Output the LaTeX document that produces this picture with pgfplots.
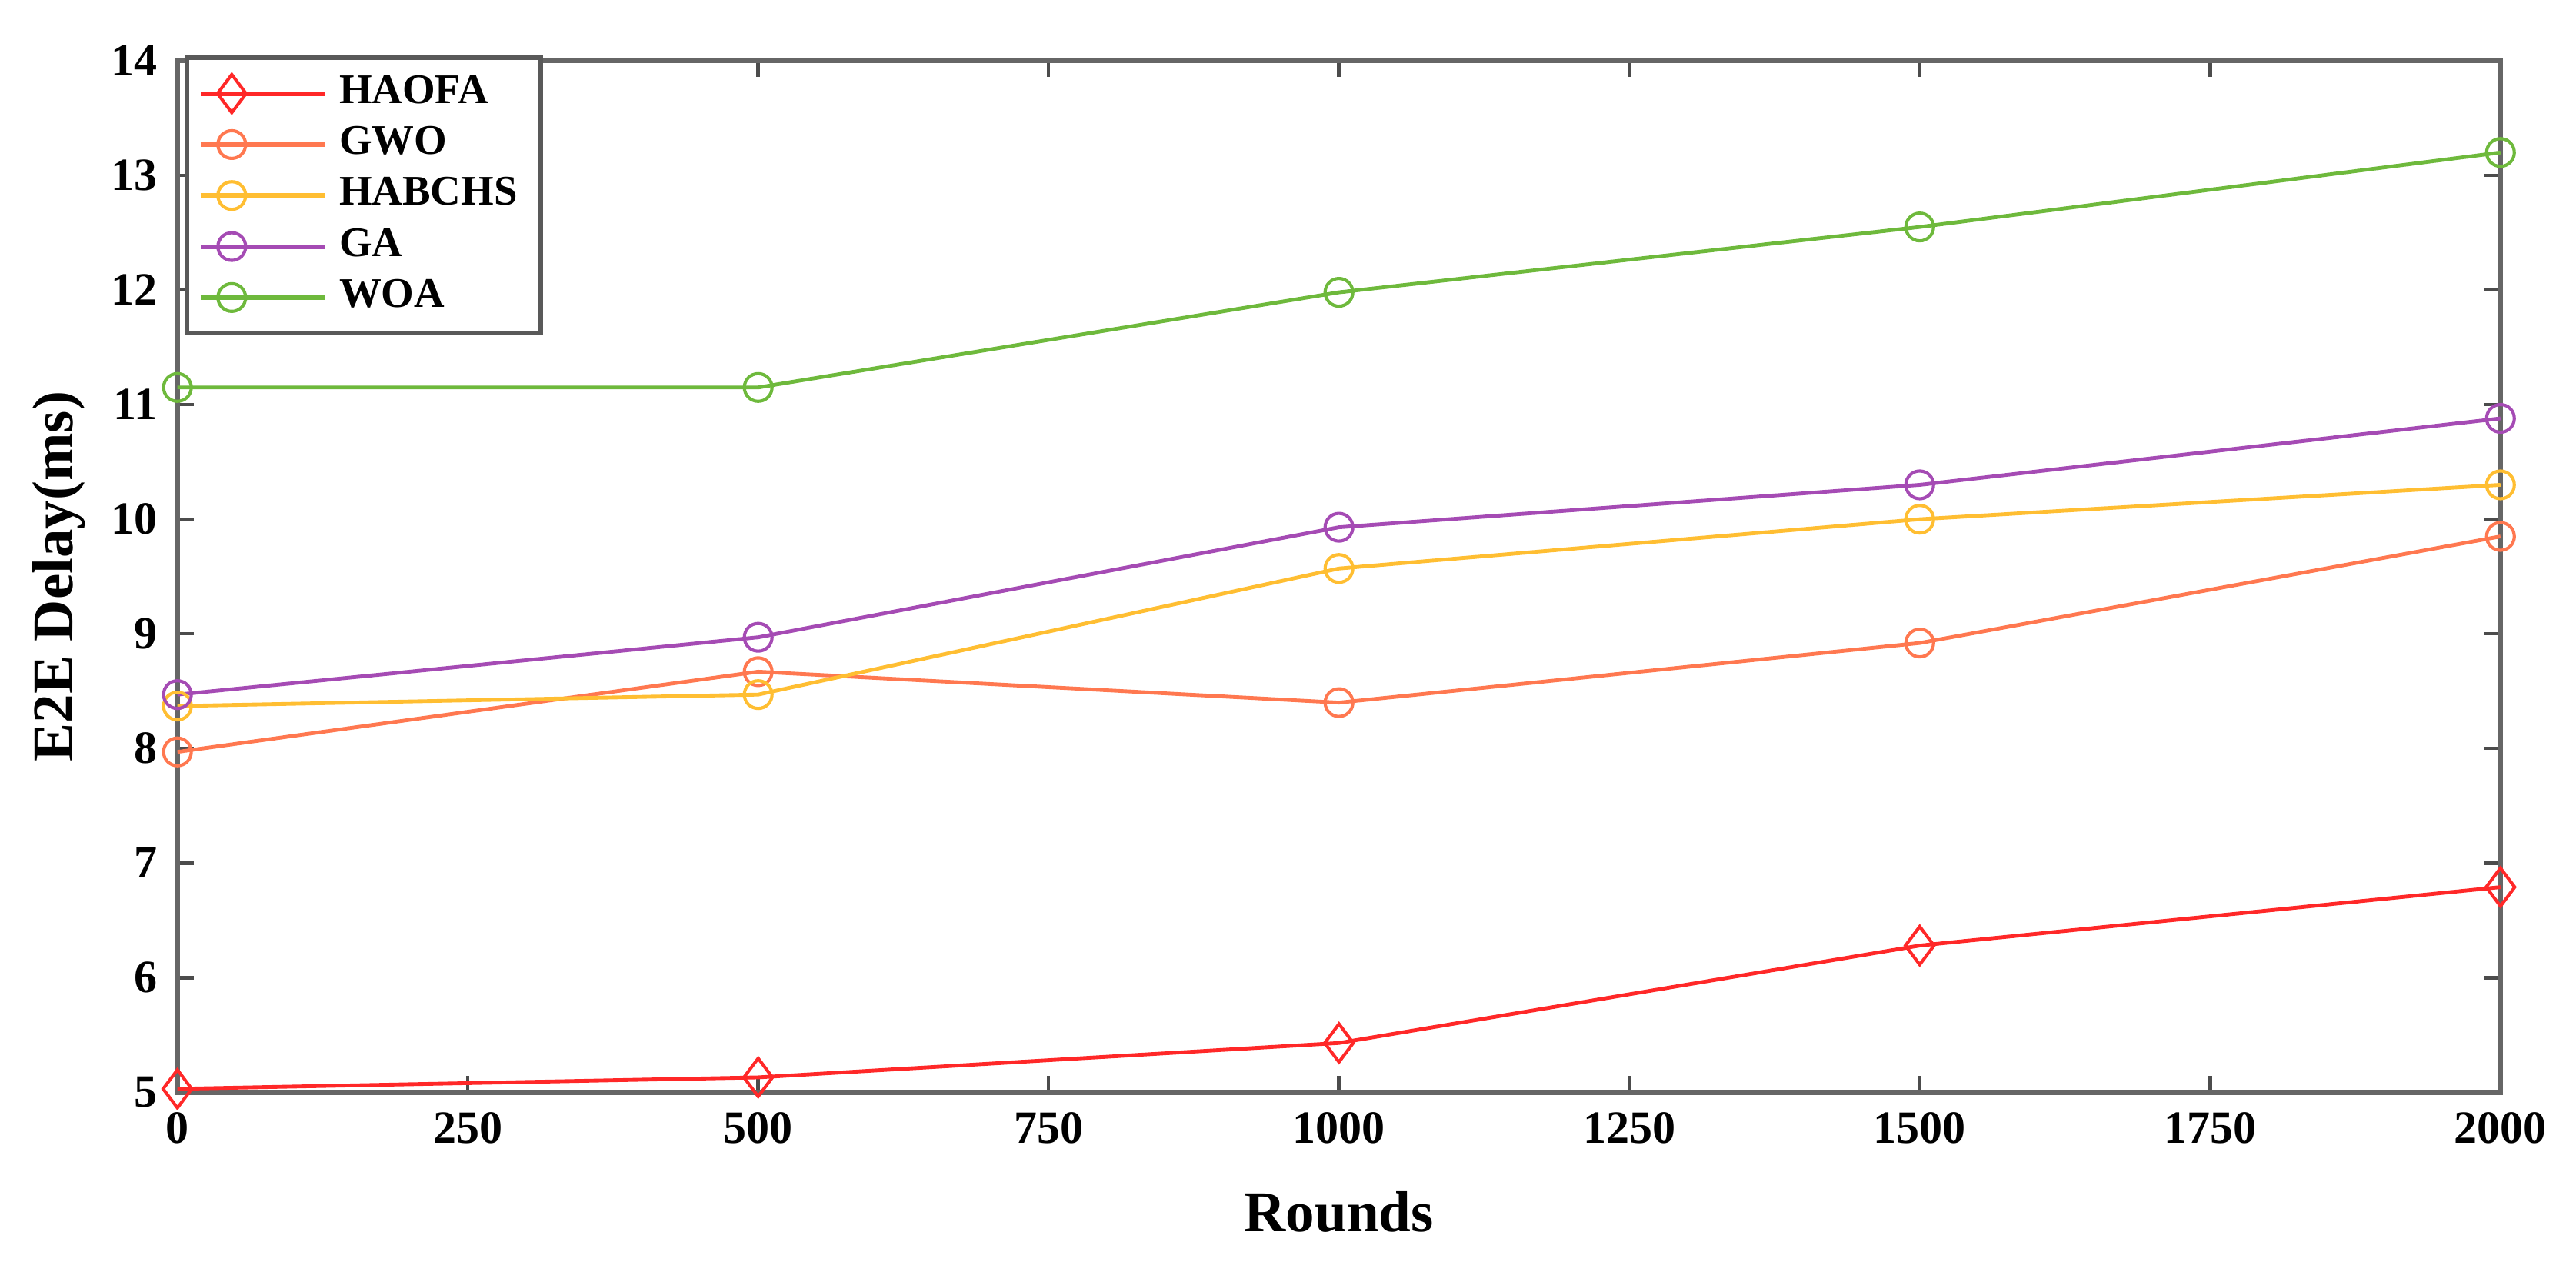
\documentclass[border=0pt]{standalone}
\usepackage{pgfplots}
\pgfplotsset{compat=1.18}
\usepackage{fontspec}
\setmainfont{Liberation Serif}
\definecolor{cHA}{RGB}{255,40,40}
\definecolor{cGW}{RGB}{255,120,80}
\definecolor{cHB}{RGB}{255,190,50}
\definecolor{cGA}{RGB}{165,75,180}
\definecolor{cWO}{RGB}{110,185,60}
\begin{document}
\begin{tikzpicture}
\begin{axis}[
  scale only axis,
  width=14.14cm, height=6.28cm,
  xmin=0, xmax=2000, ymin=5, ymax=14,
  xtick={0,250,...,2000}, ytick={5,6,...,14},
  tick align=inside,
  major tick length=0.1cm,
  axis line style={draw=black!60, line width=0.9pt},
  tick style={black!70, line width=0.6pt},
  /pgf/number format/assume math mode=true,
  /pgf/number format/set thousands separator={},
  ticklabel style={font=\fontsize{8}{9}\selectfont\bfseries},
  xticklabel style={yshift=0pt},
  xlabel={Rounds}, ylabel={E2E Delay(ms)},
  label style={font=\fontsize{10}{12}\selectfont\bfseries},
  xlabel style={at={(axis description cs:0.5,0)}, anchor=center, yshift=-0.73cm},
  ylabel style={at={(axis description cs:0,0.5)}, anchor=center, yshift=0.72cm},
  legend style={at={(0.003,1.005)}, anchor=north west, draw=black!65, line width=0.8pt,
    font=\fontsize{7.3}{8}\selectfont\bfseries, row sep=-1.5pt, inner xsep=2pt, inner ysep=1pt},
  legend cell align=left,
  legend image code/.code={\draw[#1, line width=0.8pt] (0cm,0cm) -- (0.38cm,0cm) plot coordinates {(0.19cm,0cm)} -- (0.76cm,0cm);},
  every axis plot/.append style={line width=0.65pt, mark options={solid, line width=0.55pt, fill=none}},
]
\addplot[color=cHA, mark=diamond, mark size=3.3pt] coordinates {(0,5.03) (500,5.13) (1000,5.43) (1500,6.28) (2000,6.79)};
\addlegendentry{HAOFA}
\addplot[color=cGW, mark=o, mark size=2.4pt] coordinates {(0,7.97) (500,8.67) (1000,8.40) (1500,8.92) (2000,9.85)};
\addlegendentry{GWO}
\addplot[color=cHB, mark=o, mark size=2.4pt] coordinates {(0,8.37) (500,8.47) (1000,9.57) (1500,10.00) (2000,10.30)};
\addlegendentry{HABCHS}
\addplot[color=cGA, mark=o, mark size=2.4pt] coordinates {(0,8.47) (500,8.97) (1000,9.93) (1500,10.30) (2000,10.88)};
\addlegendentry{GA}
\addplot[color=cWO, mark=o, mark size=2.4pt] coordinates {(0,11.15) (500,11.15) (1000,11.98) (1500,12.55) (2000,13.20)};
\addlegendentry{WOA}
\end{axis}
\path ([shift={(-1.08cm,-1.03cm)}]current axis.south west) rectangle ([shift={(0.46cm,0.37cm)}]current axis.north east);
\end{tikzpicture}
\end{document}
